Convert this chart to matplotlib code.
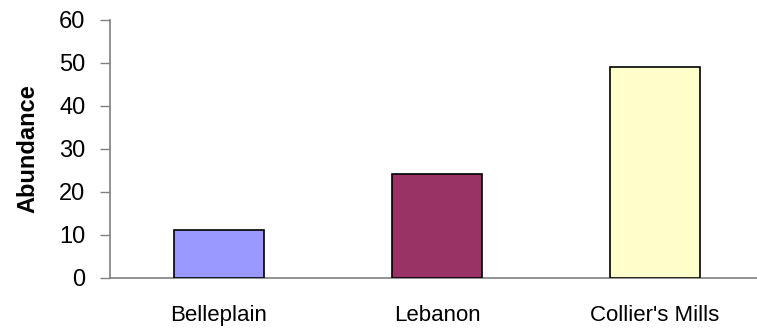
import matplotlib
matplotlib.use("Agg")
import matplotlib.pyplot as plt

categories = ["Belleplain", "Lebanon", "Collier's Mills"]
values = [11, 24, 49]
colors = ["#9999FF", "#993366", "#FFFFCC"]
yticks = [0, 10, 20, 30, 40, 50, 60]

plt.rcParams['font.family'] = ['Liberation Sans', 'DejaVu Sans']

fig = plt.figure(figsize=(7.57, 3.34), dpi=100)
W, H = 757, 334
left, right, top, bottom = 110, 764, 19.5, 277.5
ax = fig.add_axes([left / W, 1 - bottom / H, (right - left) / W, (bottom - top) / H])

x = range(len(categories))
ax.bar(x, values, width=0.41, color=colors, edgecolor="black", linewidth=1.2, zorder=3)

ax.set_xlim(-0.5, 2.5)
ax.set_ylim(0, 60)
ax.set_yticks(yticks)
ax.set_yticklabels([str(t) for t in yticks], fontsize=17)
ax.set_xticks(list(x))
ax.set_xticklabels(categories, fontsize=16)
ax.tick_params(axis='x', length=0, pad=20)
ax.tick_params(axis='y', length=7.2, width=1, color="#808080", pad=10.5, direction='out')

for s in ["top", "right"]:
    ax.spines[s].set_visible(False)
ax.spines["left"].set_color("#808080")
ax.spines["bottom"].set_color("#808080")
ax.spines["left"].set_linewidth(1.2)
ax.spines["bottom"].set_linewidth(1.2)

ax.set_ylabel("Abundance", fontsize=17, fontweight="bold", labelpad=14)

fig.savefig("out.png", dpi=100)
